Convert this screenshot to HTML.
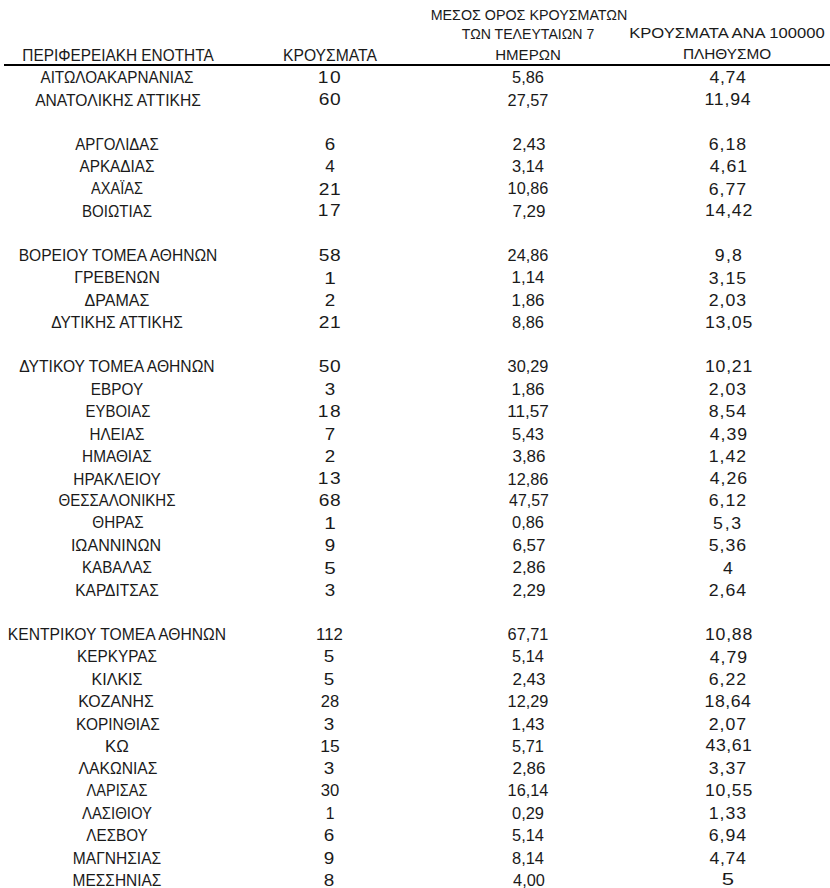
<!DOCTYPE html>
<html><head><meta charset="utf-8"><style>
html,body{margin:0;padding:0;background:#fff;width:830px;height:888px;overflow:hidden}
body{position:relative;font-family:"Liberation Sans",sans-serif;color:#1a1a1a}
.t{position:absolute;width:400px;text-align:center;line-height:1;white-space:nowrap;transform-origin:50% 50%}
.ln{position:absolute;background:#000}
</style></head><body>
<div class="ln" style="left:4px;top:64px;width:826px;height:2px"></div>
<div class="t" style="left:-83.40px;top:70.09px;font-size:16.8px;transform:scaleX(0.9091)">ΑΙΤΩΛΟΑΚΑΡΝΑΝΙΑΣ</div>
<div class="t" style="left:130.00px;top:69.29px;font-size:16.4px;letter-spacing:1.282px;transform:scaleX(1.1700)">10</div>
<div class="t" style="left:328.00px;top:70.09px;font-size:16.8px;transform:scaleX(0.9789)">5,86</div>
<div class="t" style="left:527.60px;top:69.29px;font-size:16.4px;letter-spacing:0.617px;transform:scaleX(1.0800)">4,74</div>
<div class="t" style="left:-82.20px;top:92.56px;font-size:16.8px;transform:scaleX(0.9304)">ΑΝΑΤΟΛΙΚΗΣ ΑΤΤΙΚΗΣ</div>
<div class="t" style="left:130.00px;top:90.76px;font-size:16.4px;letter-spacing:0.427px;transform:scaleX(1.1700)">60</div>
<div class="t" style="left:328.00px;top:92.56px;font-size:16.8px;transform:scaleX(0.9712)">27,57</div>
<div class="t" style="left:527.60px;top:90.76px;font-size:16.4px;letter-spacing:0.718px;transform:scaleX(1.0800)">11,94</div>
<div class="t" style="left:-82.80px;top:136.50px;font-size:16.8px;transform:scaleX(0.8960)">ΑΡΓΟΛΙΔΑΣ</div>
<div class="t" style="left:130.00px;top:135.70px;font-size:16.4px;transform:scaleX(1.1462)">6</div>
<div class="t" style="left:328.50px;top:136.50px;font-size:16.8px;transform:scaleX(1.0134)">2,43</div>
<div class="t" style="left:528.10px;top:135.70px;font-size:16.4px;letter-spacing:0.926px;transform:scaleX(1.0800)">6,18</div>
<div class="t" style="left:-83.10px;top:158.97px;font-size:16.8px;transform:scaleX(0.9136)">ΑΡΚΑΔΙΑΣ</div>
<div class="t" style="left:129.50px;top:158.17px;font-size:16.4px;transform:scaleX(1.0444)">4</div>
<div class="t" style="left:328.00px;top:158.97px;font-size:16.8px;transform:scaleX(0.9789)">3,14</div>
<div class="t" style="left:529.10px;top:158.17px;font-size:16.4px;letter-spacing:0.926px;transform:scaleX(1.0800)">4,61</div>
<div class="t" style="left:-83.00px;top:181.44px;font-size:16.8px;transform:scaleX(0.8659)">ΑΧΑΪΑΣ</div>
<div class="t" style="left:130.00px;top:180.64px;font-size:16.4px;letter-spacing:0.427px;transform:scaleX(1.1700)">21</div>
<div class="t" style="left:328.00px;top:181.44px;font-size:16.8px;transform:scaleX(0.9703)">10,86</div>
<div class="t" style="left:528.10px;top:180.64px;font-size:16.4px;letter-spacing:0.926px;transform:scaleX(1.0800)">6,77</div>
<div class="t" style="left:-82.70px;top:203.91px;font-size:16.8px;transform:scaleX(0.8997)">ΒΟΙΩΤΙΑΣ</div>
<div class="t" style="left:130.00px;top:202.11px;font-size:16.4px;letter-spacing:1.282px;transform:scaleX(1.1700)">17</div>
<div class="t" style="left:328.50px;top:203.91px;font-size:16.8px;transform:scaleX(1.0134)">7,29</div>
<div class="t" style="left:528.60px;top:202.11px;font-size:16.4px;letter-spacing:0.718px;transform:scaleX(1.0800)">14,42</div>
<div class="t" style="left:-82.10px;top:247.85px;font-size:16.8px;transform:scaleX(0.9286)">ΒΟΡΕΙΟΥ ΤΟΜΕΑ ΑΘΗΝΩΝ</div>
<div class="t" style="left:130.00px;top:247.05px;font-size:16.4px;letter-spacing:0.427px;transform:scaleX(1.1700)">58</div>
<div class="t" style="left:328.00px;top:247.85px;font-size:16.8px;transform:scaleX(0.9712)">24,86</div>
<div class="t" style="left:528.60px;top:247.05px;font-size:16.4px;letter-spacing:1.157px;transform:scaleX(1.0800)">9,8</div>
<div class="t" style="left:-82.80px;top:270.32px;font-size:16.8px;transform:scaleX(0.9435)">ΓΡΕΒΕΝΩΝ</div>
<div class="t" style="left:129.50px;top:269.52px;font-size:16.4px;transform:scaleX(1.2705)">1</div>
<div class="t" style="left:327.50px;top:270.32px;font-size:16.8px;transform:scaleX(1.0052)">1,14</div>
<div class="t" style="left:528.10px;top:269.52px;font-size:16.4px;letter-spacing:0.926px;transform:scaleX(1.0800)">3,15</div>
<div class="t" style="left:-82.70px;top:292.79px;font-size:16.8px;transform:scaleX(0.9539)">ΔΡΑΜΑΣ</div>
<div class="t" style="left:130.00px;top:291.99px;font-size:16.4px;transform:scaleX(1.1462)">2</div>
<div class="t" style="left:327.50px;top:292.79px;font-size:16.8px;transform:scaleX(1.0095)">1,86</div>
<div class="t" style="left:528.10px;top:291.99px;font-size:16.4px;letter-spacing:0.926px;transform:scaleX(1.0800)">2,03</div>
<div class="t" style="left:-82.80px;top:315.26px;font-size:16.8px;transform:scaleX(0.9238)">ΔΥΤΙΚΗΣ ΑΤΤΙΚΗΣ</div>
<div class="t" style="left:130.00px;top:314.46px;font-size:16.4px;letter-spacing:0.427px;transform:scaleX(1.1700)">21</div>
<div class="t" style="left:328.00px;top:315.26px;font-size:16.8px;transform:scaleX(0.9790)">8,86</div>
<div class="t" style="left:528.60px;top:314.46px;font-size:16.4px;letter-spacing:0.718px;transform:scaleX(1.0800)">13,05</div>
<div class="t" style="left:-82.60px;top:359.20px;font-size:16.8px;transform:scaleX(0.9325)">ΔΥΤΙΚΟΥ ΤΟΜΕΑ ΑΘΗΝΩΝ</div>
<div class="t" style="left:130.00px;top:358.40px;font-size:16.4px;letter-spacing:0.427px;transform:scaleX(1.1700)">50</div>
<div class="t" style="left:328.00px;top:359.20px;font-size:16.8px;transform:scaleX(0.9724)">30,29</div>
<div class="t" style="left:528.60px;top:358.40px;font-size:16.4px;letter-spacing:0.718px;transform:scaleX(1.0800)">10,21</div>
<div class="t" style="left:-83.30px;top:381.67px;font-size:16.8px;transform:scaleX(0.9119)">ΕΒΡΟΥ</div>
<div class="t" style="left:130.00px;top:380.87px;font-size:16.4px;transform:scaleX(1.1462)">3</div>
<div class="t" style="left:327.50px;top:381.67px;font-size:16.8px;transform:scaleX(1.0095)">1,86</div>
<div class="t" style="left:528.10px;top:380.87px;font-size:16.4px;letter-spacing:0.926px;transform:scaleX(1.0800)">2,03</div>
<div class="t" style="left:-82.50px;top:404.14px;font-size:16.8px;transform:scaleX(0.8893)">ΕΥΒΟΙΑΣ</div>
<div class="t" style="left:130.00px;top:403.34px;font-size:16.4px;letter-spacing:1.282px;transform:scaleX(1.1700)">18</div>
<div class="t" style="left:328.00px;top:404.14px;font-size:16.8px;transform:scaleX(1.0228)">11,57</div>
<div class="t" style="left:528.10px;top:403.34px;font-size:16.4px;letter-spacing:0.926px;transform:scaleX(1.0800)">8,54</div>
<div class="t" style="left:-83.20px;top:426.61px;font-size:16.8px;transform:scaleX(0.9057)">ΗΛΕΙΑΣ</div>
<div class="t" style="left:130.00px;top:425.81px;font-size:16.4px;transform:scaleX(1.1462)">7</div>
<div class="t" style="left:328.00px;top:426.61px;font-size:16.8px;transform:scaleX(0.9789)">5,43</div>
<div class="t" style="left:529.10px;top:425.81px;font-size:16.4px;letter-spacing:0.926px;transform:scaleX(1.0800)">4,39</div>
<div class="t" style="left:-83.20px;top:449.08px;font-size:16.8px;transform:scaleX(0.9151)">ΗΜΑΘΙΑΣ</div>
<div class="t" style="left:130.00px;top:448.28px;font-size:16.4px;transform:scaleX(1.1462)">2</div>
<div class="t" style="left:328.50px;top:449.08px;font-size:16.8px;transform:scaleX(1.0134)">3,86</div>
<div class="t" style="left:528.10px;top:448.28px;font-size:16.4px;letter-spacing:0.926px;transform:scaleX(1.0800)">1,42</div>
<div class="t" style="left:-82.90px;top:471.55px;font-size:16.8px;transform:scaleX(0.9177)">ΗΡΑΚΛΕΙΟΥ</div>
<div class="t" style="left:130.00px;top:469.75px;font-size:16.4px;letter-spacing:1.282px;transform:scaleX(1.1700)">13</div>
<div class="t" style="left:328.00px;top:471.55px;font-size:16.8px;transform:scaleX(0.9703)">12,86</div>
<div class="t" style="left:529.10px;top:469.75px;font-size:16.4px;letter-spacing:0.926px;transform:scaleX(1.0800)">4,26</div>
<div class="t" style="left:-82.70px;top:493.02px;font-size:16.8px;transform:scaleX(0.8969)">ΘΕΣΣΑΛΟΝΙΚΗΣ</div>
<div class="t" style="left:130.00px;top:492.22px;font-size:16.4px;letter-spacing:0.427px;transform:scaleX(1.1700)">68</div>
<div class="t" style="left:328.50px;top:493.02px;font-size:16.8px;transform:scaleX(0.9486)">47,57</div>
<div class="t" style="left:528.10px;top:492.22px;font-size:16.4px;letter-spacing:0.926px;transform:scaleX(1.0800)">6,12</div>
<div class="t" style="left:-82.10px;top:515.49px;font-size:16.8px;transform:scaleX(0.9060)">ΘΗΡΑΣ</div>
<div class="t" style="left:129.50px;top:514.69px;font-size:16.4px;transform:scaleX(1.2705)">1</div>
<div class="t" style="left:328.00px;top:515.49px;font-size:16.8px;transform:scaleX(0.9790)">0,86</div>
<div class="t" style="left:528.10px;top:514.69px;font-size:16.4px;letter-spacing:1.620px;transform:scaleX(1.0800)">5,3</div>
<div class="t" style="left:-83.90px;top:537.96px;font-size:16.8px;transform:scaleX(0.9586)">ΙΩΑΝΝΙΝΩΝ</div>
<div class="t" style="left:130.00px;top:537.16px;font-size:16.4px;transform:scaleX(1.1462)">9</div>
<div class="t" style="left:328.50px;top:537.96px;font-size:16.8px;transform:scaleX(1.0134)">6,57</div>
<div class="t" style="left:528.10px;top:537.16px;font-size:16.4px;letter-spacing:0.926px;transform:scaleX(1.0800)">5,36</div>
<div class="t" style="left:-83.10px;top:560.43px;font-size:16.8px;transform:scaleX(0.9019)">ΚΑΒΑΛΑΣ</div>
<div class="t" style="left:129.50px;top:559.63px;font-size:16.4px;transform:scaleX(1.2578)">5</div>
<div class="t" style="left:328.50px;top:560.43px;font-size:16.8px;transform:scaleX(1.0134)">2,86</div>
<div class="t" style="left:527.60px;top:559.63px;font-size:16.4px;transform:scaleX(1.0800)">4</div>
<div class="t" style="left:-82.80px;top:582.90px;font-size:16.8px;transform:scaleX(0.9232)">ΚΑΡΔΙΤΣΑΣ</div>
<div class="t" style="left:130.00px;top:582.10px;font-size:16.4px;transform:scaleX(1.1462)">3</div>
<div class="t" style="left:328.50px;top:582.90px;font-size:16.8px;transform:scaleX(1.0134)">2,29</div>
<div class="t" style="left:528.10px;top:582.10px;font-size:16.4px;letter-spacing:0.926px;transform:scaleX(1.0800)">2,64</div>
<div class="t" style="left:-83.20px;top:626.84px;font-size:16.8px;transform:scaleX(0.9326)">ΚΕΝΤΡΙΚΟΥ ΤΟΜΕΑ ΑΘΗΝΩΝ</div>
<div class="t" style="left:129.50px;top:626.84px;font-size:16.8px;transform:scaleX(1.0000)">112</div>
<div class="t" style="left:328.00px;top:626.84px;font-size:16.8px;transform:scaleX(0.9712)">67,71</div>
<div class="t" style="left:528.60px;top:626.04px;font-size:16.4px;letter-spacing:0.718px;transform:scaleX(1.0800)">10,88</div>
<div class="t" style="left:-83.10px;top:649.31px;font-size:16.8px;transform:scaleX(0.9143)">ΚΕΡΚΥΡΑΣ</div>
<div class="t" style="left:129.00px;top:649.31px;font-size:16.8px;transform:scaleX(1.1250)">5</div>
<div class="t" style="left:328.00px;top:649.31px;font-size:16.8px;transform:scaleX(0.9738)">5,14</div>
<div class="t" style="left:529.10px;top:648.51px;font-size:16.4px;letter-spacing:0.926px;transform:scaleX(1.0800)">4,79</div>
<div class="t" style="left:-83.20px;top:671.78px;font-size:16.8px;transform:scaleX(0.9555)">ΚΙΛΚΙΣ</div>
<div class="t" style="left:129.00px;top:671.78px;font-size:16.8px;transform:scaleX(1.1250)">5</div>
<div class="t" style="left:328.50px;top:671.78px;font-size:16.8px;transform:scaleX(1.0134)">2,43</div>
<div class="t" style="left:528.10px;top:670.98px;font-size:16.4px;letter-spacing:0.926px;transform:scaleX(1.0800)">6,22</div>
<div class="t" style="left:-84.00px;top:694.25px;font-size:16.8px;transform:scaleX(0.9467)">ΚΟΖΑΝΗΣ</div>
<div class="t" style="left:129.50px;top:694.25px;font-size:16.8px;transform:scaleX(0.9826)">28</div>
<div class="t" style="left:328.00px;top:694.25px;font-size:16.8px;transform:scaleX(0.9703)">12,29</div>
<div class="t" style="left:528.10px;top:693.45px;font-size:16.4px;letter-spacing:0.486px;transform:scaleX(1.0800)">18,64</div>
<div class="t" style="left:-82.20px;top:716.72px;font-size:16.8px;transform:scaleX(0.9204)">ΚΟΡΙΝΘΙΑΣ</div>
<div class="t" style="left:129.00px;top:716.72px;font-size:16.8px;transform:scaleX(1.1250)">3</div>
<div class="t" style="left:327.50px;top:716.72px;font-size:16.8px;transform:scaleX(1.0095)">1,43</div>
<div class="t" style="left:528.10px;top:715.92px;font-size:16.4px;letter-spacing:0.926px;transform:scaleX(1.0800)">2,07</div>
<div class="t" style="left:-82.70px;top:739.19px;font-size:16.8px;transform:scaleX(1.0017)">ΚΩ</div>
<div class="t" style="left:130.00px;top:739.19px;font-size:16.8px;transform:scaleX(1.0404)">15</div>
<div class="t" style="left:328.00px;top:739.19px;font-size:16.8px;transform:scaleX(0.9789)">5,71</div>
<div class="t" style="left:529.10px;top:737.39px;font-size:16.4px;letter-spacing:0.486px;transform:scaleX(1.0800)">43,61</div>
<div class="t" style="left:-81.90px;top:760.66px;font-size:16.8px;transform:scaleX(0.9324)">ΛΑΚΩΝΙΑΣ</div>
<div class="t" style="left:129.00px;top:760.66px;font-size:16.8px;transform:scaleX(1.1250)">3</div>
<div class="t" style="left:328.50px;top:760.66px;font-size:16.8px;transform:scaleX(1.0134)">2,86</div>
<div class="t" style="left:528.10px;top:759.86px;font-size:16.4px;letter-spacing:0.926px;transform:scaleX(1.0800)">3,37</div>
<div class="t" style="left:-83.10px;top:783.13px;font-size:16.8px;transform:scaleX(0.8667)">ΛΑΡΙΣΑΣ</div>
<div class="t" style="left:129.50px;top:783.13px;font-size:16.8px;transform:scaleX(0.9929)">30</div>
<div class="t" style="left:328.00px;top:783.13px;font-size:16.8px;transform:scaleX(0.9703)">16,14</div>
<div class="t" style="left:528.60px;top:782.33px;font-size:16.4px;letter-spacing:0.718px;transform:scaleX(1.0800)">10,55</div>
<div class="t" style="left:-82.70px;top:805.60px;font-size:16.8px;transform:scaleX(0.8891)">ΛΑΣΙΘΙΟΥ</div>
<div class="t" style="left:129.50px;top:805.60px;font-size:16.8px;transform:scaleX(0.9336)">1</div>
<div class="t" style="left:328.00px;top:805.60px;font-size:16.8px;transform:scaleX(0.9790)">0,29</div>
<div class="t" style="left:528.10px;top:804.80px;font-size:16.4px;letter-spacing:0.926px;transform:scaleX(1.0800)">1,33</div>
<div class="t" style="left:-82.60px;top:828.07px;font-size:16.8px;transform:scaleX(0.9062)">ΛΕΣΒΟΥ</div>
<div class="t" style="left:129.00px;top:828.07px;font-size:16.8px;transform:scaleX(1.1250)">6</div>
<div class="t" style="left:328.00px;top:828.07px;font-size:16.8px;transform:scaleX(0.9738)">5,14</div>
<div class="t" style="left:528.10px;top:827.27px;font-size:16.4px;letter-spacing:0.926px;transform:scaleX(1.0800)">6,94</div>
<div class="t" style="left:-83.10px;top:850.54px;font-size:16.8px;transform:scaleX(0.9264)">ΜΑΓΝΗΣΙΑΣ</div>
<div class="t" style="left:129.00px;top:850.54px;font-size:16.8px;transform:scaleX(1.1250)">9</div>
<div class="t" style="left:328.00px;top:850.54px;font-size:16.8px;transform:scaleX(0.9781)">8,14</div>
<div class="t" style="left:527.60px;top:849.74px;font-size:16.4px;letter-spacing:0.617px;transform:scaleX(1.0800)">4,74</div>
<div class="t" style="left:-82.80px;top:873.01px;font-size:16.8px;transform:scaleX(0.9214)">ΜΕΣΣΗΝΙΑΣ</div>
<div class="t" style="left:129.00px;top:873.01px;font-size:16.8px;transform:scaleX(1.1250)">8</div>
<div class="t" style="left:329.00px;top:873.01px;font-size:16.8px;transform:scaleX(0.9738)">4,00</div>
<div class="t" style="left:527.60px;top:871.21px;font-size:16.4px;transform:scaleX(1.3500)">5</div>
<div class="t" style="left:-82.00px;top:47.78px;font-size:15.8px;transform:scaleX(0.9732)">ΠΕΡΙΦΕΡΕΙΑΚΗ ΕΝΟΤΗΤΑ</div>
<div class="t" style="left:130.30px;top:48.08px;font-size:15.8px;transform:scaleX(0.9917)">ΚΡΟΥΣΜΑΤΑ</div>
<div class="t" style="left:329.00px;top:7.67px;font-size:14.6px;transform:scaleX(0.9793)">ΜΕΣΟΣ ΟΡΟΣ ΚΡΟΥΣΜΑΤΩΝ</div>
<div class="t" style="left:328.10px;top:26.97px;font-size:14.6px;transform:scaleX(0.9669)">ΤΩΝ ΤΕΛΕΥΤΑΙΩΝ 7</div>
<div class="t" style="left:327.90px;top:47.97px;font-size:14.6px;transform:scaleX(1.0316)">ΗΜΕΡΩΝ</div>
<div class="t" style="left:526.60px;top:24.98px;font-size:15.4px;transform:scaleX(1.0791)">ΚΡΟΥΣΜΑΤΑ ΑΝΑ 100000</div>
<div class="t" style="left:527.00px;top:46.38px;font-size:15.4px;transform:scaleX(0.9962)">ΠΛΗΘΥΣΜΟ</div>
</body></html>
